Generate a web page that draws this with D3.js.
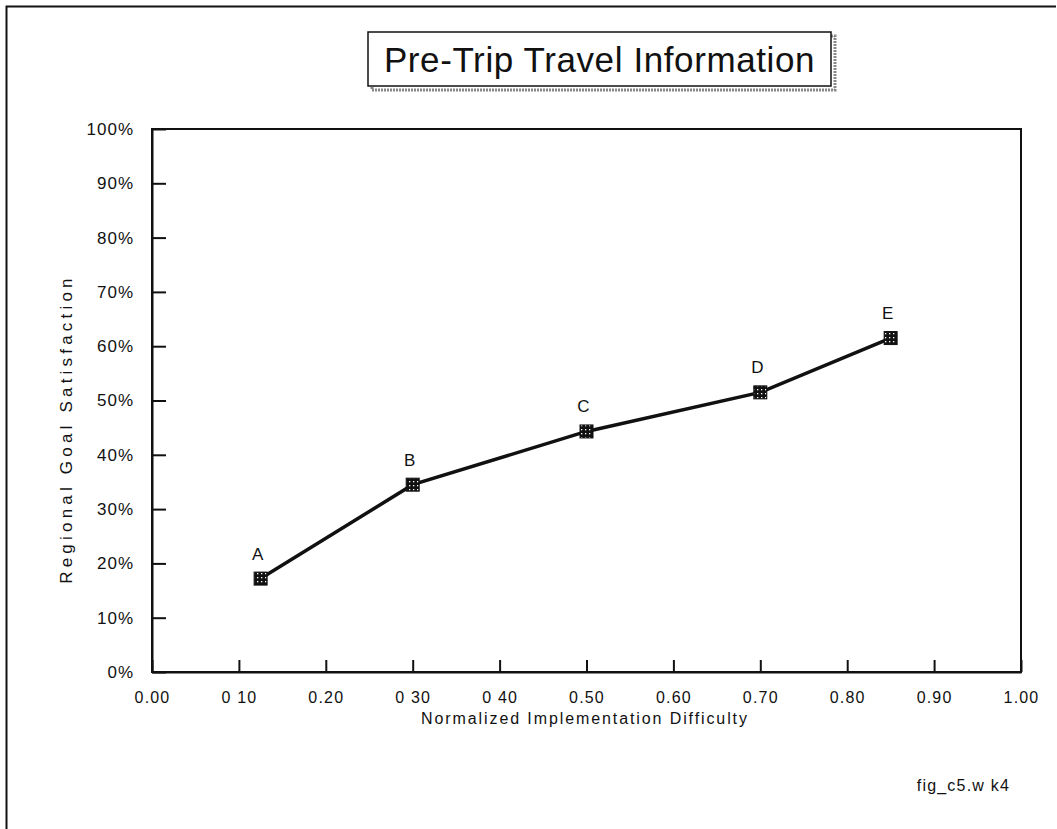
<!DOCTYPE html>
<html><head><meta charset="utf-8">
<script src="https://cdn.jsdelivr.net/npm/d3@7"></script>
<style>body{margin:0;background:#fff}svg{display:block}text{font-family:"Liberation Sans",Arial,sans-serif;fill:#111}</style>
</head><body>
<script>
const labels = ["A","B","C","D","E"];
const difficulty = [0.125, 0.30, 0.50, 0.70, 0.85];
const satisfaction = [0.172, 0.345, 0.443, 0.515, 0.615];
const xTickValues = [0,0.1,0.2,0.3,0.4,0.5,0.6,0.7,0.8,0.9,1.0];
const xTickLabels = ["0.00","0 10","0.20","0 30","0 40","0.50","0.60","0.70","0.80","0.90","1.00"];
const yTickValues = [0,0.1,0.2,0.3,0.4,0.5,0.6,0.7,0.8,0.9,1.0];
const yTickLabels = ["0%","10%","20%","30%","40%","50%","60%","70%","80%","90%","100%"];
const title = "Pre-Trip Travel Information";
const xTitle = "Normalized Implementation Difficulty";
const yTitle = "Regional Goal Satisfaction";
const footnote = "fig_c5.w k4";

const W=1057,H=829;
const svg=d3.select("body").append("svg").attr("width",W).attr("height",H);
const defs=svg.append("defs");
const pat=defs.append("pattern").attr("id","dots").attr("width",4).attr("height",4).attr("patternUnits","userSpaceOnUse");
pat.append("rect").attr("width",4).attr("height",4).attr("fill","#111");
pat.append("rect").attr("x",1).attr("y",1).attr("width",1.3).attr("height",1.3).attr("fill","#fff");

// outer frame
svg.append("path").attr("d","M6.5,829 L6.5,6.5 L1056,6.5").attr("fill","none").attr("stroke","#111").attr("stroke-width",2);

const L=152,R=1021,T=129,B=672;
const x=d3.scaleLinear().domain([0,1]).range([L,R]);
const y=d3.scaleLinear().domain([0,1]).range([B,T]);

// plot box
svg.append("rect").attr("x",L).attr("y",T).attr("width",R-L).attr("height",B-T).attr("fill","none").attr("stroke","#111").attr("stroke-width",2);

const xAxis=d3.axisBottom(x).tickValues(xTickValues).tickSizeInner(-12).tickSizeOuter(0).tickPadding(20).tickFormat((d,i)=>xTickLabels[i]);
const gx=svg.append("g").attr("transform",`translate(0,${B})`).call(xAxis);
gx.attr("font-size",null).attr("font-family",null);
gx.select(".domain").attr("stroke","#111").attr("stroke-width",2);
gx.selectAll(".tick line").attr("stroke","#111").attr("stroke-width",2);
gx.selectAll(".tick text").style("font-size","16px").attr("fill","#111").style("letter-spacing","1.2px");

const yAxis=d3.axisLeft(y).tickValues(yTickValues).tickSizeInner(-14).tickSizeOuter(0).tickPadding(18).tickFormat((d,i)=>yTickLabels[i]);
const gy=svg.append("g").attr("transform",`translate(${L},0)`).call(yAxis);
gy.attr("font-size",null).attr("font-family",null);
gy.select(".domain").attr("stroke","#111").attr("stroke-width",2);
gy.selectAll(".tick line").attr("stroke","#111").attr("stroke-width",2);
gy.selectAll(".tick text").style("font-size","17px").attr("fill","#111").style("letter-spacing","1px");

// line
const pts=labels.map((l,i)=>({l,x:difficulty[i],y:satisfaction[i]}));
svg.append("path").datum(pts).attr("fill","none").attr("stroke","#111").attr("stroke-width",3.5)
  .attr("d",d3.line().x(d=>x(d.x)).y(d=>y(d.y)));
svg.selectAll("rect.mk").data(pts).join("rect").attr("class","mk")
  .attr("x",d=>x(d.x)-6.5).attr("y",d=>y(d.y)-6.5).attr("width",13).attr("height",13)
  .attr("fill","url(#dots)").attr("stroke","#111").attr("stroke-width",1);
svg.selectAll("text.pl").data(pts).join("text").attr("class","pl")
  .attr("x",d=>x(d.x)-3).attr("y",d=>y(d.y)-19).attr("text-anchor","middle").style("font-size","17px").text(d=>d.l);

// title box
const tb={x:368,y:32,w:463,h:54};
svg.append("rect").attr("x",tb.x+4).attr("y",tb.y+4).attr("width",tb.w).attr("height",tb.h).attr("fill","none").attr("stroke","#888").attr("stroke-width",3).attr("stroke-dasharray","2,1");
svg.append("rect").attr("x",tb.x).attr("y",tb.y).attr("width",tb.w).attr("height",tb.h).attr("fill","#fff").attr("stroke","#111").attr("stroke-width",1.5);
svg.append("text").attr("x",tb.x+tb.w/2).attr("y",tb.y+40).attr("text-anchor","middle").style("font-size","35px").style("letter-spacing","0.6px").text(title);

svg.append("text").attr("x",585).attr("y",724).attr("text-anchor","middle").style("font-size","16px").style("letter-spacing","1.9px").text(xTitle);
svg.append("text").attr("transform",`translate(72,${429}) rotate(-90)`).attr("text-anchor","middle").style("font-size","17px").style("letter-spacing","4.2px").text(yTitle);
svg.append("text").attr("x",1010).attr("y",791).attr("text-anchor","end").style("font-size","16px").style("letter-spacing","1.2px").text(footnote);
</script>
</body></html>
